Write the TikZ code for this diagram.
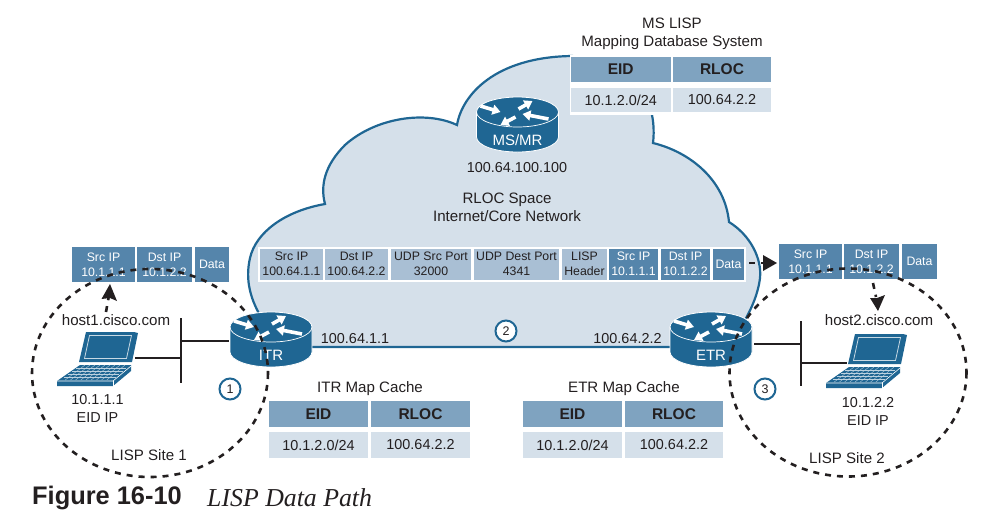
\documentclass[tikz,border=0pt]{standalone}
\usepackage{fontspec}
\setmainfont{Liberation Sans}
\newfontfamily\figserif{Liberation Serif}
\usetikzlibrary{arrows.meta,calc}
\definecolor{ciscoblue}{HTML}{1F6693}
\definecolor{cloudfill}{HTML}{D5E0EA}
\definecolor{pktdark}{HTML}{5585AB}
\definecolor{pktlight}{HTML}{A9BFD4}
\definecolor{tblhead}{HTML}{7FA3C0}
\definecolor{ink}{HTML}{231F20}
\newcommand{\fs}[1]{\fontsize{#1}{#1}\selectfont}
\tikzset{
  lbl/.style={text=ink,inner sep=0pt,align=center,font=\fs{14.4}\setlength{\baselineskip}{18pt}},
  txt/.style={lbl,font=\fs{15.1}\setlength{\baselineskip}{18pt}},
  cellbase/.style={inner sep=0pt,outer sep=0pt,align=center,anchor=center},
  pktd/.style={cellbase,fill=pktdark,text=white,font=\fs{12.3}\setlength{\baselineskip}{15pt}},
  pktl/.style={cellbase,fill=pktlight,text=ink,font=\fs{12.3}\setlength{\baselineskip}{15pt}},
  thead/.style={cellbase,fill=tblhead,text=ink,font=\fs{15.5}\bfseries},
  trow/.style={cellbase,fill=cloudfill,text=ink,font=\fs{14.4}},
  sitering/.style={draw=ink,line width=2.6pt,dash pattern=on 6pt off 6pt},
  flow/.style={draw=ink,line width=2.6pt,dash pattern=on 6pt off 6pt},
  flowhead/.style={fill=ink,draw=none},
  busline/.style={draw=ink,line width=2pt},
  stepmark/.style={circle,draw=ciscoblue,line width=2pt,fill=white,minimum size=21pt,inner sep=0pt,text=ink,font=\fs{12.5}},
  rarrow/.style={draw=white,line width=3.6pt,-{Triangle[width=10pt,length=8pt]}},
}
% name, x0, y0, x1, y1, style, text
\newcommand{\cellbox}[7]{%
  \node[#6,minimum width={(#4-#2)*1pt},minimum height={(#5-#3)*1pt}] (#1) at ({(#2+#4)/2},{(#3+#5)/2}) {#7};}
% name, centre x, ellipse centre y, label
\newcommand{\routerbox}[4]{%
  \begin{scope}[shift={(#2,#3)}]
    \fill[ciscoblue,draw=white,line width=.8pt] (-41,0) -- (-41,25) arc[start angle=180,end angle=0,x radius=41,y radius=15] -- (41,0) arc[start angle=0,end angle=-180,x radius=41,y radius=15] -- cycle;
    \draw[white,line width=.7pt] (-41,0) arc[start angle=180,end angle=0,x radius=41,y radius=15];
    \draw[rarrow] (-37,-6) -- (-17,0);
    \draw[rarrow] (1,-3) -- (15,-11);
    \draw[rarrow] (31,7) -- (5,2);
    \draw[rarrow] (-2,5) -- (-17,13);
    \node[inner sep=0pt,text=white,font=\fs{15}] (#1) at (0,28.5) {#4};
  \end{scope}}
% left corner offset
\newcommand{\laptopicon}[2]{%
  \begin{scope}[shift={(#1,#2)}]
    \fill[ciscoblue] (86,332) -- (134,332) -- (138,333) -- (132,362) -- (79,362) -- cycle;
    \draw[white!75!ciscoblue,line width=.8pt] (89.5,335.5) -- (131.5,335.5) -- (126.5,358.5) -- (84.5,358.5) -- cycle;
    \fill[ciscoblue] (80,365) -- (131,365) -- (131,371) -- (113,386) -- (57,386) -- (57,381) -- cycle;
    \foreach \t in {.2,.4,.6,.8}
      \draw[white!70!ciscoblue,line width=.35pt] ($(80,365)!\t!(60,380)$) -- ($(130,365)!\t!(112,380)$);
    \foreach \t in {.1,.2,...,.91}
      \draw[white!70!ciscoblue,line width=.35pt] ($(80,365)!\t!(130,365)$) -- ($(60,380)!\t!(112,380)$);
    \draw[white,line width=.6pt] (57,381) -- (113,381) -- (131,366);
    \draw[white,line width=.6pt] (113,381) -- (113,386);
  \end{scope}}
\begin{document}
\begin{tikzpicture}[x=1pt,y=-1pt]
\useasboundingbox (0,0) rectangle (985,531);
% cloud
\path[fill=cloudfill,draw=ciscoblue,line width=2.2pt,line join=miter]
  (720,347) -- (300,347) -- (264,322)
  .. controls (250,300) and (245,280) .. (250,258)
  .. controls (256,232) and (285,211) .. (325,204)
  .. controls (320,185) and (325,165) .. (345,145)
  .. controls (375,118) and (425,110) .. (457,125)
  .. controls (462,95) and (495,57) .. (572,56)
  .. controls (620,60) and (645,80) .. (652,115)
  .. controls (654,125) and (654,135) .. (653,143)
  .. controls (690,152) and (725,180) .. (729,222)
  .. controls (750,235) and (762,258) .. (760,278)
  .. controls (758,295) and (750,312) .. (742,325) -- cycle;
% mapping database table
\fill[white] (570,55) rectangle (772,115);
\cellbox{msE}{571}{57}{670.5}{82}{thead}{EID}
\cellbox{msR}{673}{57}{771}{82}{thead}{RLOC}
\cellbox{msEv}{571}{88}{670.5}{112}{trow}{10.1.2.0/24}
\cellbox{msRv}{673}{88}{771}{112}{trow}{100.64.2.2}
\node[txt] (mstitle) at (672,34) {MS LISP\\Mapping Database System};
% packet in core
\fill[white] (258,247) rectangle (746,282);
\cellbox{cA}{260}{248.5}{323}{280}{pktl}{Src IP\\100.64.1.1}
\cellbox{cB}{325}{248.5}{388}{280}{pktl}{Dst IP\\100.64.2.2}
\cellbox{cC}{391}{248.5}{471}{280}{pktl}{UDP Src Port\\32000}
\cellbox{cD}{474}{248.5}{559}{280}{pktl}{UDP Dest Port\\4341}
\cellbox{cE}{562}{248.5}{607}{280}{pktl}{LISP\\Header}
\cellbox{cF}{609}{248.5}{658}{280}{pktd}{Src IP\\10.1.1.1}
\cellbox{cG}{661}{248.5}{710}{280}{pktd}{Dst IP\\10.1.2.2}
\cellbox{cH}{713}{248.5}{744}{280}{pktd}{Data}
% packet left
\cellbox{lA}{72}{247}{135}{282}{pktd}{Src IP\\10.1.1.1}
\cellbox{lB}{137}{247}{192}{282}{pktd}{Dst IP\\10.1.2.2}
\cellbox{lC}{195}{247}{229}{282}{pktd}{Data}
% packet right
\cellbox{rA}{779}{244}{842}{279}{pktd}{Src IP\\10.1.1.1}
\cellbox{rB}{844}{244}{899}{279}{pktd}{Dst IP\\10.1.2.2}
\cellbox{rC}{902}{244}{937}{279}{pktd}{Data}
% text in cloud
\node[lbl] (msaddr) at (517,168) {100.64.100.100};
\node[txt] (core) at (507,207) {RLOC Space\\Internet/Core Network};
\node[lbl] (itraddr) at (355,339) {100.64.1.1};
\node[lbl] (etraddr) at (627.5,339) {100.64.2.2};
% LAN
\coordinate (lbusT) at (181,318); \coordinate (lbusB) at (181,383);
\coordinate (lbusR) at (181,341); \coordinate (lbusL) at (181,358);
\coordinate (itrport) at (229,341); \coordinate (lapL) at (135,358);
\draw[busline] (lbusT) -- (lbusB);
\draw[busline] (lbusR) -- (itrport);
\draw[busline] (lapL) -- (lbusL);
\coordinate (rbusT) at (801,321); \coordinate (rbusB) at (801,386);
\coordinate (rbusL) at (801,344); \coordinate (rbusR) at (801,363);
\coordinate (etrport) at (754,344); \coordinate (lapR) at (847,363);
\draw[busline] (rbusT) -- (rbusB);
\draw[busline] (etrport) -- (rbusL);
\draw[busline] (rbusR) -- (lapR);
% routers
\routerbox{msmr}{517.5}{112}{MS/MR}
\routerbox{itr}{271}{327}{ITR}
\routerbox{etr}{711}{327}{ETR}
% hosts
\laptopicon{0}{0}
\laptopicon{769}{2}
\node[txt] (h1) at (116,320) {host1.cisco.com};
\node[lbl] (h1ip) at (97.5,408) {10.1.1.1\\EID IP};
\node[txt] (site1) at (149,455) {LISP Site 1};
\node[txt] (h2) at (879,320) {host2.cisco.com};
\node[lbl] (h2ip) at (868,411) {10.1.2.2\\EID IP};
\node[txt] (site2) at (847,458) {LISP Site 2};
% map caches
\node[txt] (itrmc) at (370,389) {ITR Map Cache};
\cellbox{iE}{269}{401}{368}{427}{thead}{EID}
\cellbox{iR}{371}{401}{470}{427}{thead}{RLOC}
\cellbox{iEv}{269}{432}{368}{458}{trow}{10.1.2.0/24}
\cellbox{iRv}{371}{432}{470}{458}{trow}{100.64.2.2}
\node[txt] (etrmc) at (624,389) {ETR Map Cache};
\cellbox{eE}{523}{401}{622}{427}{thead}{EID}
\cellbox{eR}{625}{401}{723}{427}{thead}{RLOC}
\cellbox{eEv}{523}{432}{622}{458}{trow}{10.1.2.0/24}
\cellbox{eRv}{625}{432}{723}{458}{trow}{100.64.2.2}
% sites
\draw[sitering] (150,373) ellipse[x radius=118,y radius=104];
\draw[sitering] (848,372.5) ellipse[x radius=118.5,y radius=104];
% flow arrows
\coordinate (f1a) at (106,312); \coordinate (f1b) at (108.5,298);
\draw[flow] (f1a) -- (f1b);
\fill[flowhead] (110,284) -- (117,301) -- (110,298) -- (101.5,299) -- cycle;
\coordinate (f2a) at (749,263); \coordinate (f2b) at (765,263);
\draw[flow] (f2a) -- (f2b);
\fill[flowhead] (777,263) -- (763,255) -- (763,271) -- cycle;
\coordinate (f3a) at (873,283); \coordinate (f3b) at (876,297);
\draw[flow] (f3a) -- (f3b);
\fill[flowhead] (878,311) -- (885,295) -- (877,298) -- (870,298) -- cycle;
% step markers
\node[stepmark] (s1) at (230,389) {1};
\node[stepmark] (s2) at (506,331) {2};
\node[stepmark] (s3) at (765,389) {3};
% caption
\node[anchor=west,inner sep=0pt,text=ink,font=\fs{25.4}\bfseries] (figno) at (32,498) {Figure 16-10};
\node[anchor=west,inner sep=0pt,text=ink,font=\figserif\itshape\fs{25.8}] (figtitle) at (207,498) {LISP Data Path};
\end{tikzpicture}
\end{document}
